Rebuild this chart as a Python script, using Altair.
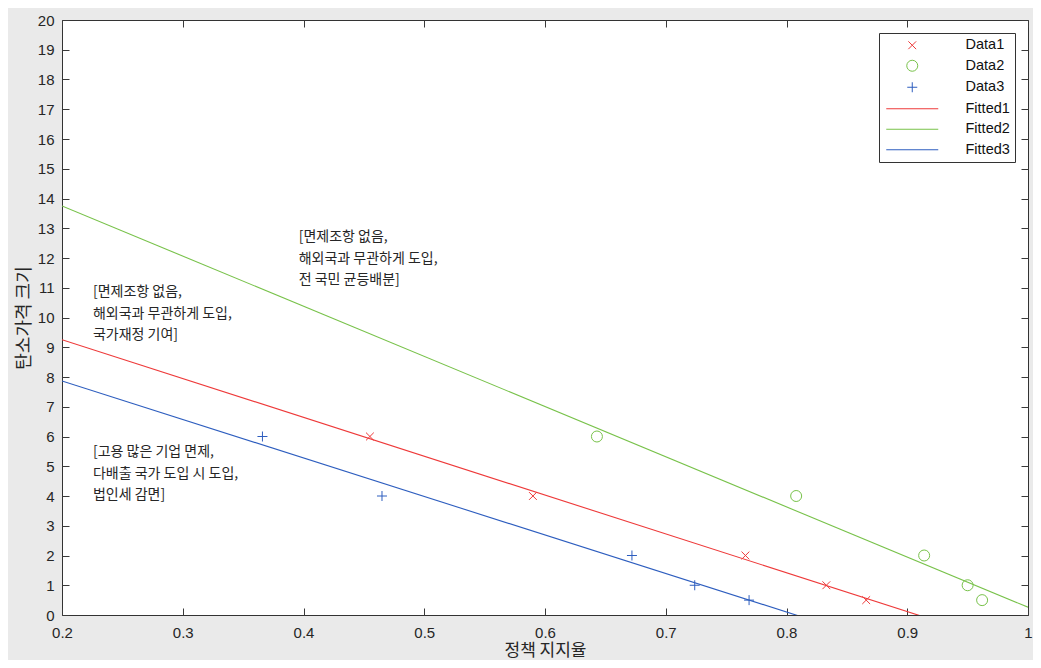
import altair as alt
import pandas as pd

# ---- data ----
support1 = [0.455, 0.590, 0.766, 0.833, 0.866]
support2 = [0.643, 0.808, 0.914, 0.950, 0.962]
support3 = [0.366, 0.465, 0.672, 0.724, 0.769]
price = [6, 4, 2, 1, 0.5]

series_names = ["Data1", "Data2", "Data3", "Fitted1", "Fitted2", "Fitted3"]
series_colors = ["#EE3A3A", "#78C24A", "#2E5EBF", "#EE3A3A", "#78C24A", "#2E5EBF"]

ann_x = [0.396, 0.2256, 0.2256]
ann_y = [12.57, 10.72, 5.33]
ann_text = [
    ["[면제조항 없음,", "해외국과 무관하게 도입,", "전 국민 균등배분]"],
    ["[면제조항 없음,", "해외국과 무관하게 도입,", "국가재정 기여]"],
    ["[고용 많은 기업 면제,", "다배출 국가 도입 시 도입,", "법인세 감면]"],
]

x_ticks = [0.2, 0.3, 0.4, 0.5, 0.6, 0.7, 0.8, 0.9, 1.0]
y_ticks = list(range(0, 21))

# ---- tables ----
df = pd.DataFrame({
    "x": support1 + support2 + support3,
    "y": price * 3,
    "series": ["Data1"] * 5 + ["Data2"] * 5 + ["Data3"] * 5,
})
ann = pd.DataFrame({"x": ann_x, "y": ann_y, "t": ann_text})

# symbol paths, unit = half of sqrt(size) = 5 px
ext = "M-5.2,0M5.2,0"
x_path = ext + "M-0.78,-0.78L0.78,0.78M-0.78,0.78L0.78,-0.78"
o_path = ext + "M1.1,0A1.1,1.1 0 1,1 -1.1,0A1.1,1.1 0 1,1 1.1,0Z"
p_path = ext + "M-1,0L1,0M0,-1L0,1"
l_path = "M-5.2,0L5.2,0"
shape_range = [x_path, o_path, p_path, l_path, l_path, l_path]

SYM = 100
xs = alt.Scale(domain=[0.2, 1.0], nice=False, zero=False)
ys = alt.Scale(domain=[0, 20], nice=False, zero=False)

lab_font = "Liberation Sans"
kr_font = "Noto Sans CJK KR"
ink = "#262626"
tick_col = "#3a3a3a"

x_axis = alt.Axis(values=x_ticks, offset=-7, tickSize=7, labelPadding=10, domain=False,
                  grid=False, labelFlush=False, labelFont=lab_font, labelFontSize=15,
                  labelColor=ink, tickColor=tick_col,
                  labelExpr="datum.value == 1 ? '1' : format(datum.value, '.1f')",
                  title="정책 지지율", titleFont=kr_font, titleFontSize=17,
                  titleFontWeight="normal", titleColor=ink, titlePadding=2)
y_axis = alt.Axis(values=y_ticks, offset=-7, tickSize=7, labelPadding=8, domain=False,
                  grid=False, labelFont=lab_font, labelFontSize=15, labelColor=ink,
                  tickColor=tick_col, title="탄소가격 크기", titleFont=kr_font,
                  titleFontSize=18, titleFontWeight="normal", titleColor=ink,
                  titlePadding=4)
x_top = alt.Axis(orient="top", values=x_ticks, offset=-7, tickSize=7, labels=False,
                 domain=False, grid=False, title=None, tickColor=tick_col)
y_right = alt.Axis(orient="right", values=y_ticks, offset=-7, tickSize=7, labels=False,
                   domain=False, grid=False, title=None, tickColor=tick_col)

legend = alt.Legend(title=None, orient="top-right", offset=13,
                    strokeColor="#333333", fillColor="white", padding=5,
                    labelFont=lab_font, labelFontSize=14.5, labelColor="#111111",
                    symbolOffset=21, labelOffset=46, rowPadding=5.5,
                    symbolSize=SYM, symbolStrokeWidth=1,
                    symbolFillColor="transparent")

# the stroke channel keeps a legend, fully transparent, so the main legend renders
hidden_legend = alt.Legend(title=None, orient="bottom-left", labelOpacity=0,
                           symbolOpacity=0, symbolStrokeWidth=0, symbolSize=1,
                           labelFontSize=1, rowPadding=0)

points = alt.Chart(df).mark_point(filled=False, size=SYM, strokeWidth=1, opacity=1).encode(
    x=alt.X("x:Q", scale=xs, axis=x_axis),
    y=alt.Y("y:Q", scale=ys, axis=y_axis),
    color=alt.Color("series:N", scale=alt.Scale(domain=series_names, range=series_colors),
                    legend=legend),
    shape=alt.Shape("series:N", scale=alt.Scale(domain=series_names, range=shape_range),
                    legend=None),
)

lines = alt.Chart(df).transform_regression(
    "x", "y", groupby=["series"], extent=[0.2, 1.0]
).transform_calculate(
    fit="replace(datum.series, 'Data', 'Fitted')"
).mark_line(clip=True, strokeWidth=1.1).encode(
    x=alt.X("x:Q", scale=xs, axis=x_top),
    y=alt.Y("y:Q", scale=ys, axis=y_right),
    stroke=alt.Stroke("fit:N", scale=alt.Scale(domain=series_names, range=series_colors),
                      legend=hidden_legend),
    detail="fit:N",
)

texts = alt.Chart(ann).mark_text(align="left", baseline="alphabetic", font=kr_font,
                                 fontSize=14, lineHeight=21.5, color=ink).encode(
    x=alt.X("x:Q", scale=xs, axis=None),
    y=alt.Y("y:Q", scale=ys, axis=None),
    text="t",
)

chart = alt.layer(lines, points, texts).resolve_axis(
    x="independent", y="independent"
).properties(
    width=966, height=595,
    autosize=alt.AutoSizeParams(type="none"),
    padding={"left": 54, "top": 12, "right": 5, "bottom": 45},
    background="#EAEAEA",
).configure_view(stroke="#333333", strokeWidth=1, fill="white")

chart.save("out.html", embed_options={"renderer": "svg", "actions": False})
